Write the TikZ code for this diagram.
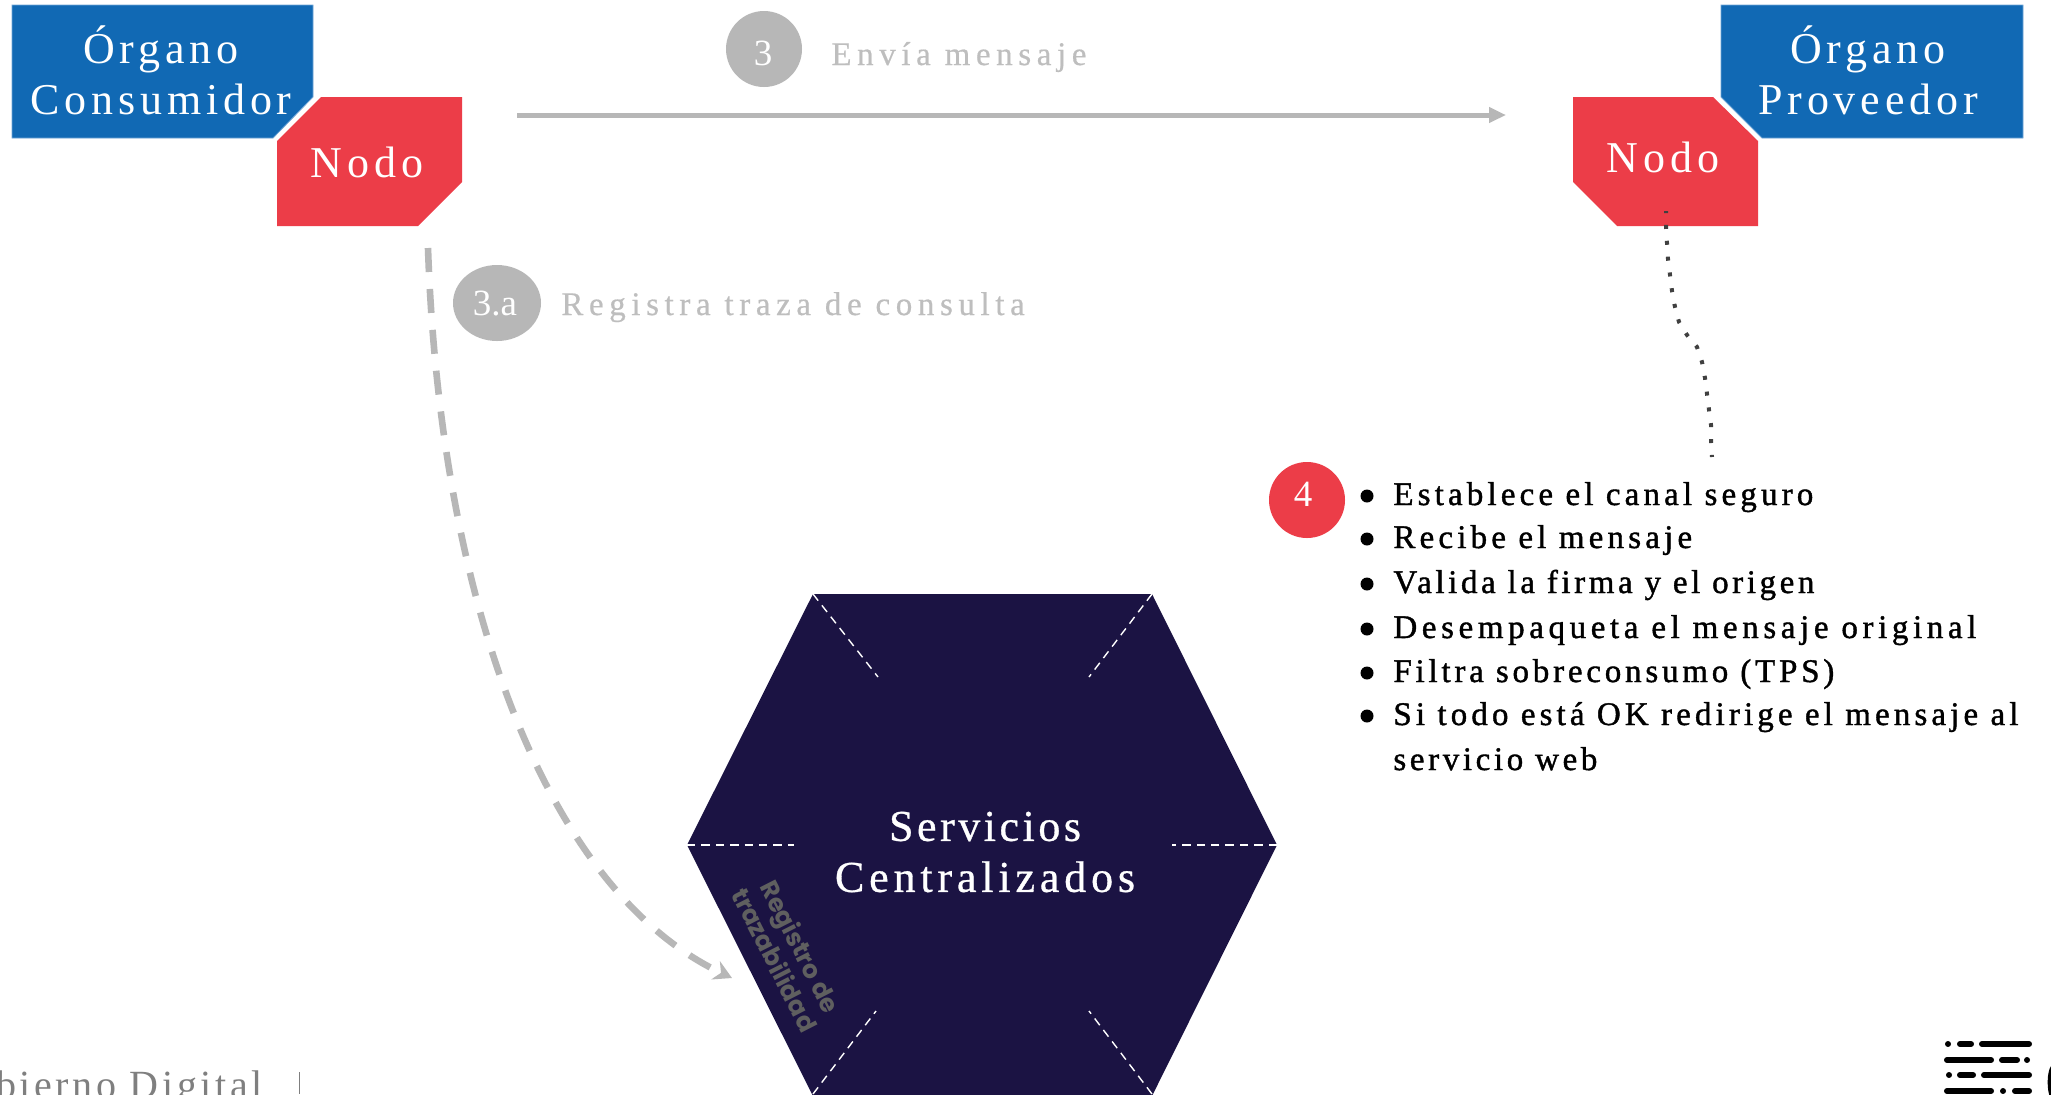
\documentclass[tikz,border=0pt]{standalone}
\usepackage{fontspec}
\usetikzlibrary{arrows.meta}
\setmainfont{Liberation Serif}
\newfontfamily\bigls[LetterSpace=11]{Liberation Serif}
\newfontfamily\servls[LetterSpace=11,FakeBold=0.7]{Liberation Serif}
\newfontfamily\stepls[LetterSpace=17,FakeBold=0.5]{Liberation Serif}
\newfontfamily\smallls[LetterSpace=12,FakeBold=1.2]{Liberation Serif}
\newfontfamily\footls[LetterSpace=9]{Liberation Serif}
\newfontfamily\plainnum{Liberation Serif}
\newfontfamily\popp{Poppins}
\newcommand{\lsp}[1]{\addfontfeature{LetterSpace=#1}}
\definecolor{azul}{HTML}{1169B4}
\definecolor{azulb}{HTML}{6FA5D6}
\definecolor{rojo}{HTML}{EC3D48}
\definecolor{navy}{HTML}{1B1343}
\definecolor{gris}{HTML}{B7B7B7}
\definecolor{gristxt}{HTML}{BEBEBE}
\definecolor{gris2}{HTML}{7F7F7F}
\definecolor{puntos}{HTML}{404040}
\definecolor{regis}{HTML}{5F5F5F}
\tikzset{
  bigtxt/.style={font=\bigls\fontsize{22pt}{25.5pt}\selectfont,text=white,align=center,inner sep=0pt},
  steptxt/.style={font=\stepls\fontsize{16.5pt}{20pt}\selectfont,text=gristxt,inner sep=0pt,anchor=base west},
  itemtxt/.style={font=\smallls\fontsize{16.5pt}{20pt}\selectfont,text=black,inner sep=0pt,anchor=base west},
  numcirc/.style={inner sep=0pt,text=white,font=\plainnum\fontsize{18.5pt}{20pt}\selectfont},
  azulbox/.style={fill=azul,draw=azulb,line width=0.4pt},
  rojobox/.style={fill=rojo},
  hexdash/.style={draw=white,line width=0.7pt,dash pattern=on 4.2pt off 3pt},
  logobar/.style={draw=black,line width=3pt,line cap=round},
  bala/.style={fill=black},
}
\begin{document}
\begin{tikzpicture}[x=0.5pt,y=-0.5pt]
\path[use as bounding box,clip] (0,0) rectangle (2051,1094);
\fill[white] (0,0) rectangle (2051,1094);
% organs
\path[azulbox] (12,5) -- (313,5) -- (313,97) -- (273,138) -- (12,138) -- cycle;
\path[azulbox] (1721,5) -- (2023,5) -- (2023,138) -- (1762,138) -- (1721,97) -- cycle;
\path[rojobox] (321,97) -- (462,97) -- (462,182) -- (418,226) -- (277,226) -- (277,141) -- cycle;
\path[rojobox] (1573,97) -- (1713,97) -- (1758,141) -- (1758,226) -- (1617,226) -- (1573,182) -- cycle;
\node[bigtxt] (orgcons) at (161,70) {Órgano\\Consumidor};
\node[bigtxt] (orgprov) at (1868,70) {Órgano\\Proveedor};
\node[bigtxt,anchor=base] (nodoa) at (367,177) {Nodo};
\node[bigtxt,anchor=base] (nodob) at (1663,172) {Nodo};
% hexagon
\fill[navy] (813,594) -- (1152,594) -- (1277,845) -- (1152,1096) -- (813,1096) -- (687,845) -- cycle;
\draw[hexdash] (813,594) -- (878,677);
\draw[hexdash] (1152,594) -- (1089,677);
\draw[hexdash] (687,845) -- (794,845);
\draw[hexdash] (1277,845) -- (1172,845);
\draw[hexdash] (813,1094) -- (876,1011);
\draw[hexdash] (1152,1094) -- (1089,1011);
\node[bigtxt,font=\servls\fontsize{22pt}{25.5pt}\selectfont] (serv) at (985,852) {{\lsp{8}Servicios}\\Centralizados};
\node[inner sep=0pt,rotate=-63,align=center,text=regis,font=\popp\bfseries\fontsize{12.5pt}{14.5pt}\selectfont] (regt) at (788,953) {Registro de\\trazabilidad};
% connectors
\coordinate (a1) at (517,115);
\coordinate (a2) at (1506,115);
\draw[gris,line width=2.5pt,-{Stealth[length=8.5pt,width=7.5pt,inset=0pt]}] (a1) -- (a2);
\coordinate (c1) at (428,248);
\coordinate (c2) at (732,978);
\draw[gris,line width=3.3pt,dash pattern=on 12pt off 8.5pt,-{Stealth[length=9pt,width=10pt]}] (c1) .. controls (440,600) and (545,890) .. (c2);
\coordinate (d1) at (1666,211);
\coordinate (d2) at (1697,347);
\coordinate (d3) at (1712,457);
\draw[puntos,line width=2pt,dash pattern=on 2pt off 5.95pt,dash phase=1pt] (d1) -- (1666,227) -- (1667,243) -- (1668,259) -- (1670,275) -- (1672,291) -- (1675,307) -- (1679,322) -- (1687,335) -- (d2) -- (1702,362) -- (1705,378) -- (1707,394) -- (1709,410) -- (1711,425) -- (1711,441) -- (d3);
% step circles
\fill[gris] (764,49) circle[x radius=38,y radius=38];
\node[numcirc] (n3) at (763,53) {3};
\node[steptxt] (t3) at (831,65) {Envía mensaje};
\fill[gris] (497,303) circle[x radius=44,y radius=38];
\node[numcirc] (n3a) at (495,304) {3.a};
\node[steptxt] (t3a) at (561,315) {Registra traza de consulta};
\fill[rojo] (1307,500) circle[x radius=38,y radius=38];
\node[numcirc] (n4) at (1303,494) {4};
% list
\foreach \yy in {496,539,584,629,673,716} {\fill[bala] (1367,\yy) circle[radius=6.5];}
\node[itemtxt] (i1) at (1393,505) {\lsp{12.6}Establece el canal seguro};
\node[itemtxt] (i2) at (1393,548) {\lsp{12.7}Recibe el mensaje};
\node[itemtxt] (i3) at (1393,593) {\lsp{10.9}Valida la firma y el origen};
\node[itemtxt] (i4) at (1393,638) {\lsp{14}Desempaqueta el mensaje original};
\node[itemtxt] (i5) at (1393,682) {\lsp{11.5}Filtra sobreconsumo (TPS)};
\node[itemtxt] (i6) at (1393,725) {\lsp{12.5}Si todo está OK redirige el mensaje al};
\node[itemtxt] (i7) at (1393,770) {\lsp{11}servicio web};
% footer
\node[inner sep=0pt,anchor=base east,text=gris2,font=\footls\fontsize{20pt}{26pt}\selectfont] (pie) at (263,1098) {Gobierno Digital};
\fill[gris2] (298.5,1072) rectangle (300,1094);
% logo
\draw[logobar] (1948,1044) -- (1948.01,1044);
\draw[logobar] (1960,1044) -- (1971,1044);
\draw[logobar] (1982,1044) -- (2029,1044);
\draw[logobar] (1947,1060) -- (1991,1060);
\draw[logobar] (2002,1060) -- (2017,1060);
\draw[logobar] (2027,1060) -- (2027.01,1060);
\draw[logobar] (1949,1075) -- (1949.01,1075);
\draw[logobar] (1960,1075) -- (1973,1075);
\draw[logobar] (1984,1075) -- (2029,1075);
\draw[logobar] (1947,1091) -- (1991,1091);
\draw[logobar] (2003,1091) -- (2003.01,1091);
\draw[logobar] (2015,1091) -- (2029,1091);
\draw[black,line width=2.2pt] (2053,1067) .. controls (2049,1072) and (2049,1090) .. (2052,1096);
\end{tikzpicture}
\end{document}
